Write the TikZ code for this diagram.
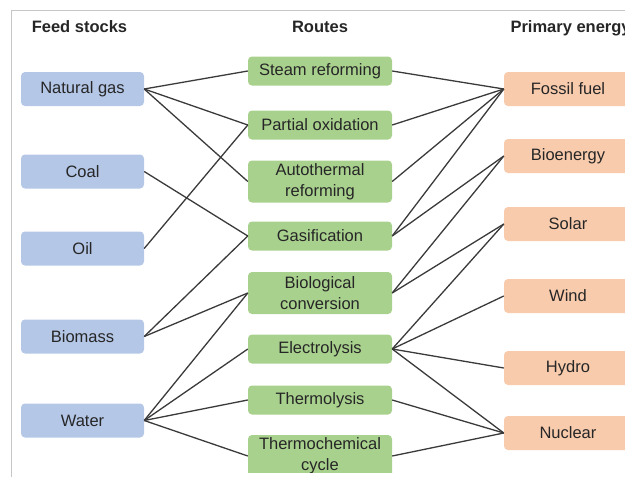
\documentclass[tikz,border=0pt]{standalone}
\usepackage{fontspec}
\setmainfont{Liberation Sans}
\usepackage{tikz}
\usetikzlibrary{positioning}

\definecolor{feedblue}{HTML}{B4C7E7}
\definecolor{routegreen}{HTML}{A9D18E}
\definecolor{energyorange}{HTML}{F8CBAD}
\definecolor{linkgray}{HTML}{3A3A3A}
\definecolor{txtgray}{HTML}{262626}

\begin{document}
\begin{tikzpicture}[
  x=1pt, y=-1pt,
  font=\fontsize{16.5}{21}\selectfont, text=txtgray,
  feed/.style={fill=feedblue,rounded corners=4pt,minimum width=123pt,minimum height=34pt,inner sep=1pt},
  route/.style={fill=routegreen,rounded corners=4pt,minimum width=144pt,minimum height=29pt,align=center,inner sep=1pt},
  route2/.style={route,minimum height=42pt},
  energy/.style={fill=energyorange,rounded corners=4pt,minimum width=128pt,minimum height=34pt,inner sep=1pt},
  head/.style={font=\fontsize{16.5}{21}\selectfont\bfseries,anchor=base},
  link/.style={draw=linkgray,line width=1.3pt},
]
\useasboundingbox (0,0) rectangle (625,477);

% frame of the screenshot
\draw[gray!45,line width=1pt] (11,477) -- (11,10) -- (625,10);

\begin{scope}
\clip (0,0) rectangle (625,472);

% column heads
\node[head] (hfeed) at (79.5,32) {Feed stocks};
\node[head] (hroute) at (320,32) {Routes};
\node[head,anchor=base west] (henergy) at (507,32) {Primary energy};

% ---- feed stocks ----
\node[feed] (ng) at (82.5,89) {Natural gas};
\node[feed] (coal) at (82.5,171.5) {Coal};
\node[feed] (oil) at (82.5,248.5) {Oil};
\node[feed] (bm) at (82.5,336.5) {Biomass};
\node[feed] (water) at (82.5,420.5) {Water};

% ---- routes ----
\node[route] (sr) at (320,71) {Steam reforming};
\node[route] (po) at (320,125) {Partial oxidation};
\node[route2] (atr) at (320,181.5) {Autothermal\\reforming};
\node[route] (gas) at (320,236) {Gasification};
\node[route2] (bc) at (320,293) {Biological\\conversion};
\node[route] (el) at (320,349) {Electrolysis};
\node[route] (tl) at (320,400) {Thermolysis};
\node[route2] (tc) at (320,456) {Thermochemical\\cycle};

% ---- primary energy ----
\node[energy] (ff) at (568,89) {Fossil fuel};
\node[energy] (be) at (568,156) {Bioenergy};
\node[energy] (sol) at (568,224) {Solar};
\node[energy] (wind) at (568,296) {Wind};
\node[energy] (hyd) at (568,368) {Hydro};
\node[energy] (nuc) at (568,433) {Nuclear};

% feed stock -> route
\foreach \a/\b in {ng/sr, ng/po, ng/atr, coal/gas, oil/po, bm/gas, bm/bc,
                   water/bc, water/el, water/tl, water/tc}
  \draw[link] (\a.east) -- (\b.west);

% route -> primary energy
\foreach \a/\b in {sr/ff, po/ff, atr/ff, gas/ff, gas/be, bc/be, bc/sol,
                   el/sol, el/wind, el/hyd, el/nuc, tl/nuc, tc/nuc}
  \draw[link] (\a.east) -- (\b.west);
\end{scope}
\end{tikzpicture}
\end{document}
